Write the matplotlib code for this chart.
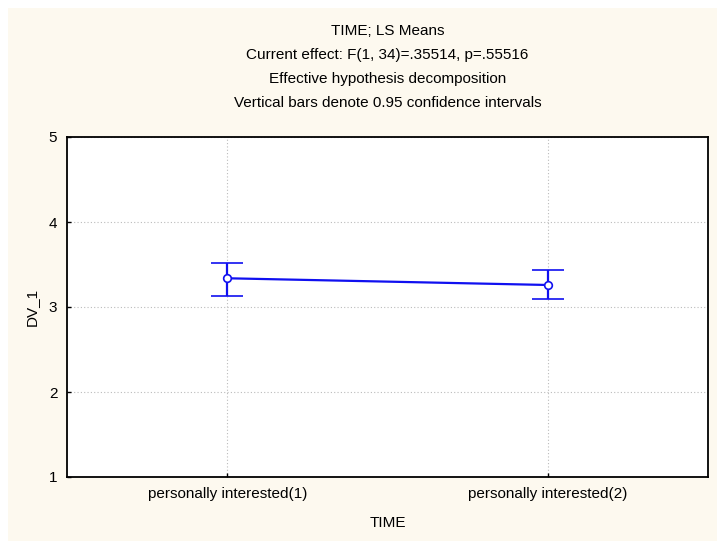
import matplotlib
matplotlib.use("Agg")
import matplotlib.pyplot as plt
from matplotlib.patches import Rectangle

categories = ["personally interested(1)", "personally interested(2)"]
means = [3.338, 3.259]
ci_low = [3.133, 3.091]
ci_high = [3.521, 3.435]
yticks = [1, 2, 3, 4, 5]
title_lines = [
    "TIME; LS Means",
    "Current effect: F(1, 34)=.35514, p=.55516",
    "Effective hypothesis decomposition",
    "Vertical bars denote 0.95 confidence intervals",
]

plt.rcParams['font.family'] = ['Liberation Sans', 'DejaVu Sans']
W, H = 717, 541
fig = plt.figure(figsize=(W / 100, H / 100), dpi=100)
fig.patch.set_facecolor('white')
bg = '#FDF9EF'
fig.patches.append(Rectangle((8 / W, 0), 1 - 8 / W, 1 - 8 / H, transform=fig.transFigure,
                             facecolor=bg, edgecolor='none', zorder=-10))

ax = fig.add_axes([67 / W, 1 - 477 / H, (708 - 67) / W, (477 - 137) / H])
ax.set_facecolor('white')

x = list(range(len(categories)))
yerr = [[m - lo for m, lo in zip(means, ci_low)], [hi - m for m, hi in zip(means, ci_high)]]
ax.errorbar(x, means, yerr=yerr, color='#1010F0', lw=1.6, elinewidth=1.6, capsize=11.5,
            capthick=1.6, marker='o', markersize=5.5, markerfacecolor='white',
            markeredgecolor='#1010F0', markeredgewidth=1.2, zorder=3)

ax.set_xlim(-0.5, 1.5)
ax.set_ylim(1, 5)
ax.set_xticks(x)
ax.set_xticklabels(categories)
ax.set_yticks(yticks)
ax.tick_params(direction='in', length=3, width=1, labelsize=11, colors='black', pad=7)
ax.grid(True, color='#BBBBBB', linestyle=(0, (1, 2)), lw=0.8)
ax.set_axisbelow(True)
for s in ax.spines.values():
    s.set_linewidth(1.3)
    s.set_color('black')

ax.set_ylabel("DV_1", fontsize=11)
ax.set_xlabel("TIME", fontsize=11)
ax.xaxis.set_label_coords(0.5, -(523 - 477) / (477 - 137))
ax.yaxis.set_label_coords(-(67 - 32) / (708 - 67), 0.5)
ax.yaxis.label.set_va('center')
ax.xaxis.label.set_va('center')

cx = (67 + 708) / 2 / W
for i, line in enumerate(title_lines):
    fig.text(cx, 1 - (31 + 24 * i) / H, line, ha='center', va='center', fontsize=11)

fig.savefig("out.png", dpi=100, facecolor=fig.get_facecolor())
